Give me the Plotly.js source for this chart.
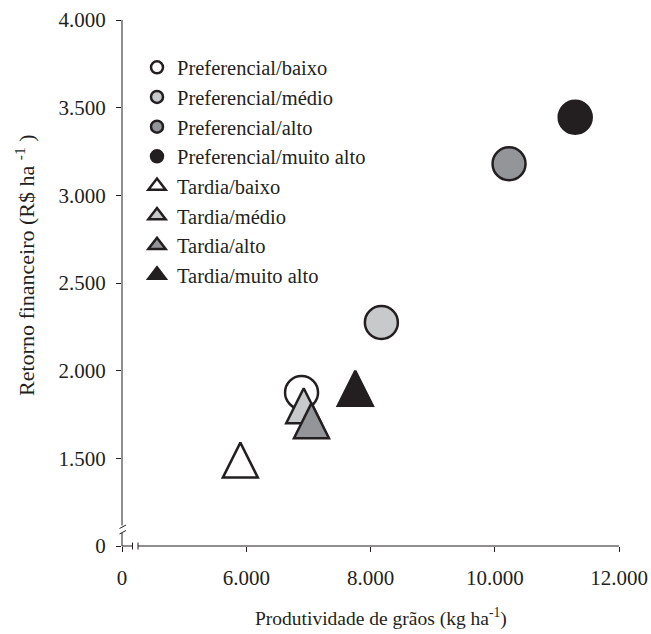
<!DOCTYPE html>
<html><head><meta charset="utf-8">
<script src="https://cdn.plot.ly/plotly-3.0.1.min.js"></script>
<style>html,body{margin:0;padding:0;background:#fff}#chart{width:651px;height:634px}</style>
</head><body><div id="chart"></div>
<script>
// ---- data ----
const seriesNames = ['Preferencial/baixo','Preferencial/médio','Preferencial/alto','Preferencial/muito alto',
                     'Tardia/baixo','Tardia/médio','Tardia/alto','Tardia/muito alto'];
const produtividade = [6890, 8175, 10230, 11295, 5905, 6925, 7050, 7755];   // kg ha-1
const retorno       = [1875, 2275, 3180, 3445, 1490, 1800, 1715, 1900];     // R$ ha-1
const xTickVals = [4000, 6000, 8000, 10000, 12000];
const xTickText = ['0', '6.000', '8.000', '10.000', '12.000'];
const yTickVals = [1000, 1500, 2000, 2500, 3000, 3500, 4000];
const yTickText = ['0', '1.500', '2.000', '2.500', '3.000', '3.500', '4.000'];
const xTitle = 'Produtividade de grãos (kg ha<sup>-1</sup>)';
const yTitle = 'Retorno financeiro (R$ ha <sup>-1</sup> )';

// ---- styles ----
const ink = '#231f20';
const fills = ['#ffffff', '#c8c9cb', '#939598', ink, '#ffffff', '#c8c9cb', '#939598', ink];
const isTriangle = [false, false, false, false, true, true, true, true];
const FONT = "'Liberation Serif', 'Times New Roman', serif";
const CIRCLE_SIZE = 33, TRI_SIZE = 35, LW = 2.5;

const traces = [];
// data marks (legend hidden)
seriesNames.forEach((name, i) => {
  const tri = isTriangle[i];
  traces.push({
    type: 'scatter', mode: 'markers', name: name, showlegend: false,
    x: [produtividade[i]], y: [retorno[i]],
    marker: tri ? {
      symbol: 'arrow-down', angle: 180, standoff: TRI_SIZE / 2, size: TRI_SIZE,
      color: fills[i], line: {color: ink, width: LW}
    } : {
      symbol: 'circle', size: CIRCLE_SIZE, color: fills[i], line: {color: ink, width: LW}
    },
    cliponaxis: false, hoverinfo: 'x+y+name'
  });
});
// legend entries
seriesNames.forEach((name, i) => {
  const tri = isTriangle[i];
  traces.push({
    type: 'scatter', mode: 'markers', name: name, showlegend: true,
    x: [null], y: [null],
    marker: {symbol: tri ? 'triangle-up' : 'circle', size: tri ? 15 : 12,
             color: fills[i], line: {color: ink, width: 2.5}}
  });
});

const M = {l: 122, r: 32, t: 20, b: 88};
const W = 651 - M.l - M.r, H = 634 - M.t - M.b;
const xp = px => (px - M.l) / W;
const yp = py => (634 - M.b - py) / H;
const ln = (x0, y0, x1, y1) => ({type: 'line', xref: 'paper', yref: 'paper',
  x0: xp(x0), y0: yp(y0), x1: xp(x1), y1: yp(y1), line: {color: ink, width: 1}});
const shapes = [
  ln(M.l, 20, M.l, 525.5),          // y axis main
  ln(119.5, 528.5, 126, 525),        // break marks
  ln(119.5, 534, 126, 530.5),
  ln(M.l, 533, M.l, 546),            // y axis lower stub
  ln(M.l, 546, 132.5, 546),          // x axis stub
  ln(132.5, 542.5, 132.5, 549.5),    // break bars
  ln(138, 542.5, 138, 549.5),
  ln(138, 546, 619, 546)             // x axis main
];

const axisCommon = {
  showgrid: false, zeroline: false, showline: false,
  ticks: 'outside', ticklen: 5, tickwidth: 1, tickcolor: ink,
  tickfont: {family: FONT, size: 21, color: ink}, automargin: false
};

const layout = {
  width: 651, height: 634, margin: M,
  paper_bgcolor: '#fff', plot_bgcolor: '#fff',
  font: {family: FONT, size: 21, color: ink},
  showlegend: true,
  legend: {x: xp(137), xanchor: 'left', y: yp(47.5), yanchor: 'top',
           bgcolor: 'rgba(0,0,0,0)', borderwidth: 0, itemsizing: 'trace',
           font: {family: FONT, size: 20.5, color: ink}},
  xaxis: Object.assign({}, axisCommon, {
    range: [4000, 12000], tickmode: 'array', tickvals: xTickVals, ticktext: xTickText,
    ticklabelstandoff: 8
  }),
  yaxis: Object.assign({}, axisCommon, {
    range: [1000, 4000], tickmode: 'array', tickvals: yTickVals, ticktext: yTickText,
    ticklabelstandoff: 6
  }),
  annotations: [
    {text: xTitle, xref: 'paper', yref: 'paper', x: xp(381), y: yp(617),
     xanchor: 'center', yanchor: 'middle', showarrow: false,
     font: {family: FONT, size: 19.5, color: ink}},
    {text: yTitle, xref: 'paper', yref: 'paper', x: xp(25), y: yp(266),
     xanchor: 'center', yanchor: 'middle', showarrow: false, textangle: -90,
     font: {family: FONT, size: 22, color: ink}}
  ],
  shapes: shapes
};

Plotly.newPlot('chart', traces, layout, {displayModeBar: false, staticPlot: true});
</script>
</body></html>
